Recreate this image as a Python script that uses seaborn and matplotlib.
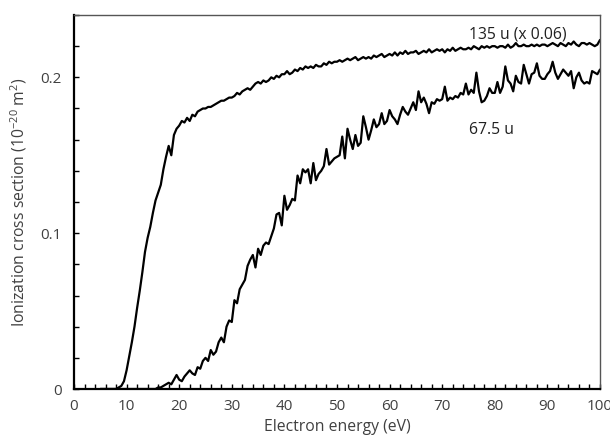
import numpy as np
import pandas as pd
import matplotlib
matplotlib.use("Agg")
import matplotlib.pyplot as plt
from matplotlib.ticker import MultipleLocator, FixedLocator
import seaborn as sns

# Electron energy (eV), 0.5 eV steps from 5 to 100
energy = [5.0 + 0.5 * i for i in range(191)]

# 135 u ion (scaled x 0.06)
sigma_135 = [
    0, 0, 0, 0, 0, 0, 0, 0.001, 0.002, 0.005,
    0.012, 0.021, 0.030, 0.040, 0.052, 0.063, 0.075, 0.088, 0.097, 0.104,
    0.113, 0.121, 0.126, 0.131, 0.141, 0.149, 0.156, 0.150, 0.163, 0.167,
    0.169, 0.172, 0.171, 0.174, 0.172, 0.176, 0.175, 0.178, 0.179, 0.180,
    0.180, 0.181, 0.181, 0.182, 0.183, 0.184, 0.185, 0.185, 0.186, 0.187,
    0.187, 0.188, 0.190, 0.189, 0.191, 0.192, 0.193, 0.192, 0.194, 0.196,
    0.197, 0.196, 0.198, 0.197, 0.198, 0.200, 0.199, 0.201, 0.200, 0.202,
    0.202, 0.204, 0.202, 0.203, 0.205, 0.204, 0.206, 0.205, 0.207, 0.206,
    0.207, 0.206, 0.208, 0.207, 0.207, 0.209, 0.208, 0.210, 0.209, 0.210,
    0.210, 0.211, 0.210, 0.211, 0.212, 0.211, 0.212, 0.213, 0.211, 0.212,
    0.213, 0.212, 0.213, 0.212, 0.214, 0.213, 0.214, 0.215, 0.213, 0.214,
    0.215, 0.214, 0.216, 0.214, 0.216, 0.215, 0.217, 0.215, 0.216, 0.216,
    0.217, 0.215, 0.216, 0.217, 0.216, 0.218, 0.216, 0.217, 0.218, 0.217,
    0.218, 0.216, 0.218, 0.217, 0.219, 0.217, 0.218, 0.219, 0.218, 0.218,
    0.219, 0.218, 0.220, 0.219, 0.218, 0.220, 0.219, 0.220, 0.219, 0.220,
    0.220, 0.219, 0.220, 0.220, 0.219, 0.221, 0.219, 0.220, 0.222, 0.220,
    0.220, 0.221, 0.220, 0.220, 0.221, 0.220, 0.221, 0.220, 0.221, 0.221,
    0.220, 0.221, 0.222, 0.221, 0.220, 0.222, 0.221, 0.220, 0.222, 0.221,
    0.223, 0.221, 0.220, 0.222, 0.222, 0.221, 0.222, 0.221, 0.220, 0.221,
    0.224,
]

# 67.5 u ion
sigma_675 = [
    0, 0, 0, 0, 0, 0, 0, 0, 0, 0,
    0, 0, 0, 0, 0, 0, 0, 0, 0, 0,
    0, 0, 0.001, 0.001, 0.002, 0.003, 0.004, 0.003, 0.006, 0.009,
    0.006, 0.005, 0.008, 0.010, 0.012, 0.010, 0.009, 0.014, 0.013, 0.018,
    0.020, 0.018, 0.025, 0.022, 0.024, 0.030, 0.033, 0.030, 0.040, 0.044,
    0.043, 0.057, 0.055, 0.064, 0.067, 0.070, 0.079, 0.083, 0.086, 0.078,
    0.090, 0.086, 0.092, 0.094, 0.093, 0.098, 0.103, 0.112, 0.113, 0.105,
    0.124, 0.115, 0.118, 0.122, 0.121, 0.137, 0.132, 0.141, 0.139, 0.141,
    0.132, 0.145, 0.134, 0.138, 0.140, 0.143, 0.154, 0.144, 0.146, 0.148,
    0.149, 0.150, 0.162, 0.148, 0.167, 0.160, 0.154, 0.163, 0.156, 0.158,
    0.175, 0.168, 0.160, 0.166, 0.173, 0.168, 0.170, 0.177, 0.170, 0.172,
    0.179, 0.175, 0.173, 0.170, 0.176, 0.181, 0.178, 0.176, 0.180, 0.184,
    0.179, 0.191, 0.184, 0.187, 0.183, 0.177, 0.184, 0.183, 0.186, 0.185,
    0.186, 0.194, 0.185, 0.187, 0.186, 0.188, 0.187, 0.190, 0.189, 0.196,
    0.189, 0.192, 0.190, 0.203, 0.191, 0.184, 0.185, 0.188, 0.193, 0.190,
    0.190, 0.197, 0.190, 0.194, 0.207, 0.198, 0.196, 0.191, 0.201, 0.197,
    0.196, 0.208, 0.202, 0.196, 0.202, 0.203, 0.209, 0.201, 0.199, 0.199,
    0.202, 0.204, 0.210, 0.203, 0.199, 0.202, 0.205, 0.203, 0.201, 0.204,
    0.193, 0.200, 0.203, 0.198, 0.196, 0.197, 0.196, 0.204, 0.203, 0.202,
    0.205,
]

series_names = ["135 u (x 0.06)", "67.5 u"]
x_ticks = [0, 10, 20, 30, 40, 50, 60, 70, 80, 90, 100]
y_ticks = [0, 0.1, 0.2]
y_tick_labels = ["0", "0.1", "0.2"]

df = pd.concat([
    pd.DataFrame({"energy": energy, "sigma": sigma_135, "ion": series_names[0]}),
    pd.DataFrame({"energy": energy, "sigma": sigma_675, "ion": series_names[1]}),
])

sns.set_style("white")
plt.rcParams["font.family"] = ["Open Sans", "DejaVu Sans"]
plt.rcParams["mathtext.fontset"] = "custom"
plt.rcParams["mathtext.rm"] = "Open Sans"
plt.rcParams["mathtext.it"] = "Open Sans:italic"

fig = plt.figure(figsize=(6.10, 4.41), dpi=100)
ax = fig.add_axes([0.1213, 0.1179, 0.8623, 0.8481])

sns.lineplot(data=df, x="energy", y="sigma", hue="ion", units="ion",
             estimator=None, palette=["black", "black"], linewidth=1.6,
             legend=False, ax=ax)

ax.set_xlim(0, 100)
ax.set_ylim(0, 0.24)
ax.xaxis.set_major_locator(FixedLocator(x_ticks))
ax.xaxis.set_minor_locator(MultipleLocator(2))
ax.yaxis.set_major_locator(FixedLocator(y_ticks))
ax.set_yticklabels(y_tick_labels)
ax.yaxis.set_minor_locator(MultipleLocator(0.02))

ax.tick_params(axis="both", which="both", direction="in", length=3.5,
               width=1.0, color="black", labelsize=11, labelcolor="#404040")
ax.tick_params(axis="x", which="both", pad=7, bottom=True, top=False)
ax.tick_params(axis="y", which="both", pad=9, left=True, right=False)

for side in ["left", "bottom"]:
    ax.spines[side].set_color("black")
    ax.spines[side].set_linewidth(1.6)
for side in ["top", "right"]:
    ax.spines[side].set_visible(True)
    ax.spines[side].set_color("#555555")
    ax.spines[side].set_linewidth(1.0)

ax.set_xlabel("Electron energy (eV)", fontsize=11.3, color="#404040", labelpad=4)
ax.set_ylabel("Ionization cross section (10$^{\u221220}$ m$^{2}$)",
              fontsize=11.3, color="#404040", labelpad=8)

ax.text(75.1, 0.2275, series_names[0], fontsize=11.3, color="#202020",
        ha="left", va="center")
ax.text(75.1, 0.166, series_names[1], fontsize=11.3, color="#202020",
        ha="left", va="center")

fig.savefig("out.png", dpi=100)
